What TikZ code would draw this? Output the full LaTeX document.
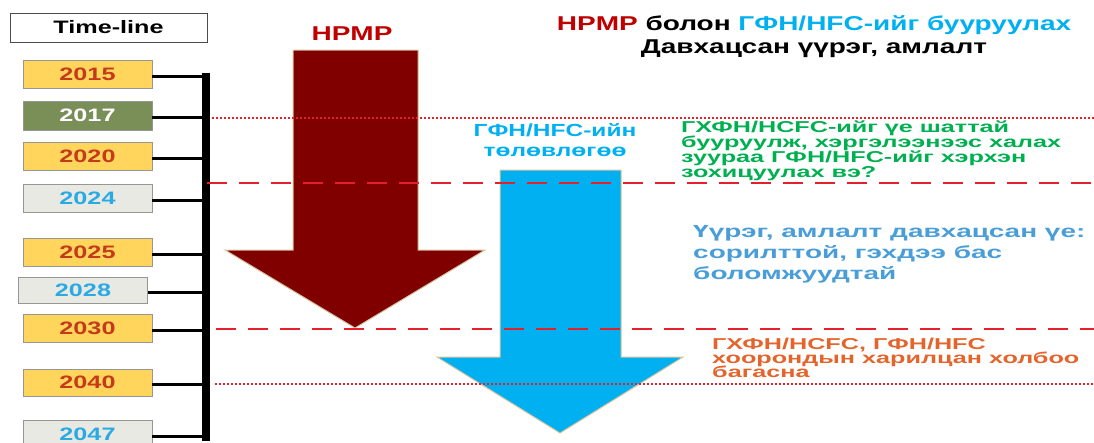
\documentclass[tikz,border=0pt]{standalone}
\usepackage{fontspec}
\setmainfont{Liberation Sans}[FakeStretch=1.4]
\newfontfamily\squashfont{Liberation Sans}[FakeStretch=1.6]
\usetikzlibrary{positioning}

\definecolor{yearyellow}{RGB}{255,213,92}
\definecolor{yearolive}{RGB}{122,142,88}
\definecolor{yeargray}{RGB}{233,233,228}
\definecolor{boxedge}{RGB}{150,150,150}
\definecolor{yearred}{RGB}{196,58,26}
\definecolor{yearblue}{RGB}{42,170,226}
\definecolor{hpmpdark}{RGB}{128,0,0}
\definecolor{hpmpred}{RGB}{192,0,0}
\definecolor{hfcblue}{RGB}{0,176,240}
\definecolor{arrowedge}{RGB}{214,196,160}
\definecolor{linered}{RGB}{228,32,42}
\definecolor{notegreen}{RGB}{0,176,80}
\definecolor{noteblue}{RGB}{74,158,216}
\definecolor{noteorange}{RGB}{228,100,44}

\newcommand{\yearfont}{\fontsize{18}{20}\selectfont\bfseries}
\newcommand{\titlefont}{\fontsize{20}{23}\selectfont\bfseries}
% tight lines: let the baselines come closer than the glyphs
\newcommand{\notefont}[2]{\squashfont\fontsize{#1}{#2}\selectfont\bfseries\lineskiplimit=-50pt\lineskip=0pt}

\tikzset{
  yearbox/.style={draw=boxedge, line width=0.8pt, minimum width=129pt, minimum height=28pt, inner sep=0pt, font=\yearfont},
  yellowyear/.style={yearbox, fill=yearyellow, text=yearred},
  grayyear/.style={yearbox, fill=yeargray, text=yearblue},
  tick/.style={line width=3pt, black},
  dashline/.style={linered, line width=2.5pt, dash pattern=on 20pt off 12pt},
  dotline/.style={linered, line width=2pt, dash pattern=on 2pt off 2pt},
}

\begin{document}
\begin{tikzpicture}[x=1pt, y=-1pt]
        \useasboundingbox (0,0) rectangle (1094,442);

        % Big arrows
        \filldraw[fill=hpmpdark, draw=arrowedge, line width=1pt]
          (293,50) -- (418,50) -- (418,250) -- (485,250) -- (355,328) -- (225,250) -- (293,250) -- cycle;
        \filldraw[fill=hfcblue, draw=arrowedge, line width=1pt]
          (500,170) -- (621,170) -- (621,357) -- (683,357) -- (560,433) -- (437,357) -- (500,357) -- cycle;

        % Time-line heading and years
        \node[draw=black!70, line width=0.8pt, minimum width=197pt, minimum height=29pt, inner sep=0pt, font=\fontsize{18}{20}\selectfont\bfseries] (timeline) at (108.5,27.5) {Time-line};

        \node[yellowyear] (y2015) at (87.5,74) {2015};
        \node[yearbox, fill=yearolive, text=white, minimum height=29pt] (y2017) at (87.5,115.5) {2017};
        \node[yellowyear] (y2020) at (87.5,156.5) {2020};
        \node[grayyear] (y2024) at (87.5,198) {2024};
        \node[yellowyear] (y2025) at (87.5,252) {2025};
        \node[grayyear, minimum height=26pt] (y2028) at (83,290) {2028};
        \node[yellowyear] (y2030) at (87.5,328) {2030};
        \node[yellowyear, minimum height=27pt] (y2040) at (87.5,382.5) {2040};
        \node[grayyear] (y2047) at (87.5,434) {2047};

        % Vertical bar and ticks (yshift is in page direction: negative = down)
        \coordinate (bartop) at ([xshift=54pt, yshift=1.5pt]y2015.east);
        \coordinate (barbot) at ([xshift=54pt, yshift=-7pt]y2047.east);
        \draw[line width=8pt] (bartop) -- (barbot);
        \foreach \yr in {2015,2017,2020,2024,2025,2028,2030,2040,2047}
          \draw[tick] ([yshift=-2pt]y\yr.east) -- ([yshift=-2pt]y\yr.east -| bartop);

        % Phase lines
        \coordinate (l2017) at (212,118);
        \coordinate (l2024) at (207,183);
        \coordinate (l2030) at (216,329);
        \coordinate (l2040) at (215,384);
        \draw[dotline] (l2017) -- (1094,118);
        \draw[dashline] (l2024) -- (1094,183);
        \draw[dashline] (l2030) -- (1094,329);
        \draw[dotline] (l2040) -- (1094,384);

        % Labels
        \node[font=\titlefont, text=hpmpred, inner sep=0pt, anchor=base] (hpmplabel) at (352,40) {HPMP};
        \node[font=\fontsize{17.5}{20}\selectfont\bfseries, text=hfcblue, inner sep=0pt, align=center, anchor=north] (hfclabel) at (555,123) {ГФН/HFC-ийн\\төлөвлөгөө};

        \node[font=\titlefont, inner sep=0pt, align=center, anchor=north] (title) at (814,15)
          {\textcolor{hpmpred}{HPMP} болон \textcolor{hfcblue}{ГФН/HFC-ийг бууруулах}\\Давхацсан үүрэг, амлалт};

        \node[font=\notefont{15.75}{14.7}, text=notegreen, inner sep=0pt, align=left, anchor=north west] (note1) at (681,121)
          {ГХФН/HCFC-ийг үе шаттай\\бууруулж, хэргэлээнээс халах\\зуураа ГФН/HFC-ийг хэрхэн\\зохицуулах вэ?};
        \node[font=\notefont{17.5}{21}, text=noteblue, inner sep=0pt, align=left, anchor=north west] (note2) at (693,225)
          {Үүрэг, амлалт давхацсан үе:\\сорилттой, гэхдээ бас\\боломжуудтай};
        \node[font=\notefont{15.75}{13.7}, text=noteorange, inner sep=0pt, align=left, anchor=north west] (note3) at (712,338)
          {ГХФН/HCFC, ГФН/HFC\\хоорондын харилцан холбоо\\багасна};
\end{tikzpicture}
\end{document}
